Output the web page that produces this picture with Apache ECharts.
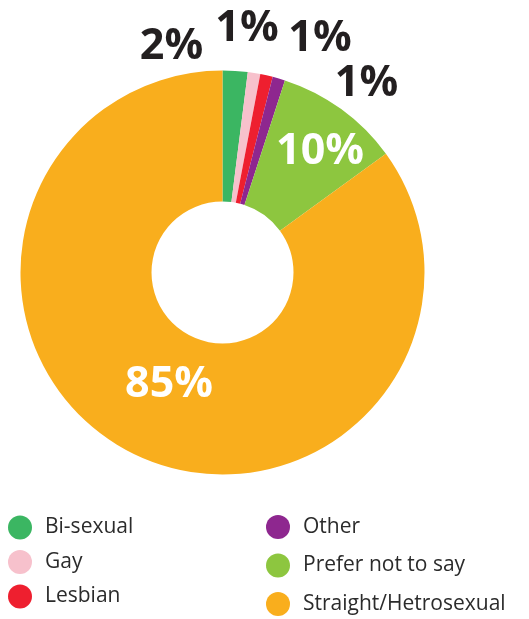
<!DOCTYPE html>
<html>
<head>
<meta charset="utf-8">
<script src="https://cdn.jsdelivr.net/npm/echarts@6/dist/echarts.min.js"></script>
<style>
html,body{margin:0;padding:0;background:#fff;}
#chart{width:529px;height:619px;}
</style>
</head>
<body>
<div id="chart"></div>
<script>
// Data
var categories = ['Bi-sexual', 'Gay', 'Lesbian', 'Other', 'Prefer not to say', 'Straight/Hetrosexual'];
var values = [2, 1, 1, 1, 10, 85];
var labels = ['2%', '1%', '1%', '1%', '10%', '85%'];

// Styles
var colors = ['#3bb662', '#f7c1cc', '#ee1f2f', '#8e278f', '#8dc63f', '#f9ae1d'];
var labelColors = ['#231f20', '#231f20', '#231f20', '#231f20', '#ffffff', '#ffffff'];
var labelOffsets = [[-51, -226], [24.5, -243.5], [97.5, -233.5], [144, -189], [97.5, -120.5], [-53.5, 112.5]];
var CX = 222.5, CY = 272.5;

var chart = echarts.init(document.getElementById('chart'));

var pieData = categories.map(function (c, i) {
  return {
    name: c,
    value: values[i],
    itemStyle: { color: colors[i] },
    label: { color: labelColors[i] }
  };
});

var legendText = { fontFamily: 'Open Sans', fontSize: 21, color: '#2b2b2b', padding: [0, 0, 0, 8] };

chart.setOption({
  animation: false,
  legend: [
    {
      data: categories.slice(0, 3),
      orient: 'vertical',
      left: 8,
      top: 515.5,
      icon: 'circle',
      itemWidth: 24,
      itemHeight: 24,
      itemGap: 10.5,
      padding: 0,
      textStyle: legendText
    },
    {
      data: categories.slice(3),
      orient: 'vertical',
      left: 266,
      top: 515,
      icon: 'circle',
      itemWidth: 24,
      itemHeight: 24,
      itemGap: 14.5,
      padding: 0,
      textStyle: legendText
    }
  ],
  series: [{
    type: 'pie',
    center: [CX, CY],
    radius: [71, 202],
    startAngle: 90,
    clockwise: true,
    avoidLabelOverlap: false,
    itemStyle: { borderWidth: 0 },
    emphasis: { disabled: true },
    label: {
      show: true,
      position: 'inside',
      fontFamily: 'Open Sans',
      fontWeight: 'bold',
      fontSize: 43,
      formatter: function (p) { return labels[p.dataIndex]; }
    },
    labelLine: { show: false },
    labelLayout: function (p) {
      var o = labelOffsets[p.dataIndex];
      return { x: CX + o[0], y: CY + o[1], align: 'center', verticalAlign: 'middle' };
    },
    data: pieData
  }]
});
</script>
</body>
</html>
